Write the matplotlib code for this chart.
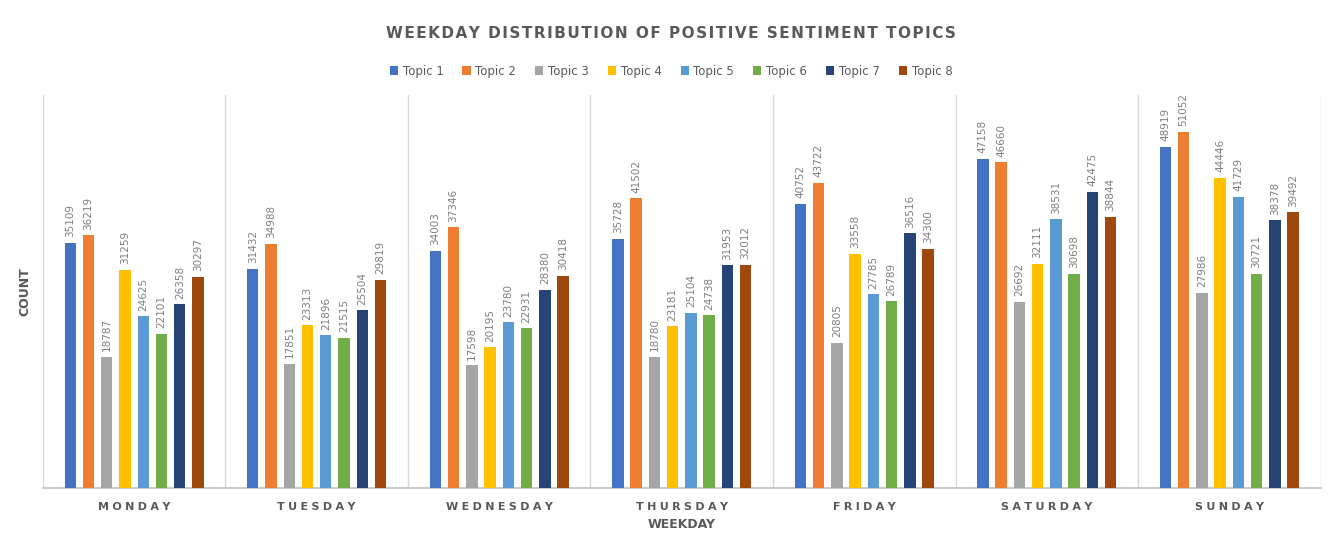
import matplotlib
matplotlib.use("Agg")
import matplotlib.pyplot as plt
import numpy as np

days = ["MONDAY", "TUESDAY", "WEDNESDAY", "THURSDAY", "FRIDAY", "SATURDAY", "SUNDAY"]
topics = ["Topic 1", "Topic 2", "Topic 3", "Topic 4", "Topic 5", "Topic 6", "Topic 7", "Topic 8"]

topic1 = [35109, 31432, 34003, 35728, 40752, 47158, 48919]
topic2 = [36219, 34988, 37346, 41502, 43722, 46660, 51052]
topic3 = [18787, 17851, 17598, 18780, 20805, 26692, 27986]
topic4 = [31259, 23313, 20195, 23181, 33558, 32111, 44446]
topic5 = [24625, 21896, 23780, 25104, 27785, 38531, 41729]
topic6 = [22101, 21515, 22931, 24738, 26789, 30698, 30721]
topic7 = [26358, 25504, 28380, 31953, 36516, 42475, 38378]
topic8 = [30297, 29819, 30418, 32012, 34300, 38844, 39492]
series = [topic1, topic2, topic3, topic4, topic5, topic6, topic7, topic8]

colors = ["#4472C4", "#ED7D31", "#A5A5A5", "#FFC000", "#5B9BD5", "#70AD47", "#264478", "#9E480E"]

def spaced(s, sep="\u2009"):
    return sep.join(list(s))

fig = plt.figure(figsize=(13.42, 5.51), dpi=100)
ax = fig.add_axes([0.032, 0.114, 0.952, 0.714])

x = np.arange(len(days))
slot = 0.1
bw = 0.062
for i, vals in enumerate(series):
    pos = x + (i - 3.5) * slot
    ax.bar(pos, vals, width=bw, color=colors[i], label=topics[i], zorder=3)
    for px, v in zip(pos, vals):
        ax.text(px, v + 800, str(v), rotation=90, ha="center", va="bottom",
                fontsize=7.5, color="#7F7F7F", zorder=4)

ax.set_xlim(-0.5, len(days) - 0.5)
ax.set_ylim(0, 56350)
ax.set_yticks([])
ax.set_xticks(x)
ax.set_xticklabels([spaced(d, "\u2009\u200a") for d in days], fontsize=8, color="#595959", fontweight="bold")
ax.tick_params(axis="x", length=0, pad=10)
for b in np.arange(-0.5, len(days), 1.0):
    ax.axvline(b, color="#D9D9D9", lw=1, zorder=1)
for s in ["top", "right", "left"]:
    ax.spines[s].set_visible(False)
ax.spines["bottom"].set_color("#BFBFBF")
ax.spines["bottom"].set_linewidth(1.2)

ax.set_xlabel("WEEKDAY", fontsize=9, color="#595959", fontweight="bold", labelpad=4)
ax.set_ylabel("COUNT", fontsize=9, color="#595959", fontweight="bold", labelpad=8)

fig.text(0.5, 0.94, spaced("WEEKDAY DISTRIBUTION OF POSITIVE SENTIMENT TOPICS", "\u200a"),
         ha="center", va="center", fontsize=11, color="#595959", fontweight="bold")
fig.legend(loc="center", bbox_to_anchor=(0.5, 0.871), ncol=8, frameon=False,
           fontsize=8.5, handlelength=0.7, handleheight=0.7, columnspacing=1.6,
           handletextpad=0.4, labelcolor="#595959")

fig.savefig("out.png", dpi=100)
